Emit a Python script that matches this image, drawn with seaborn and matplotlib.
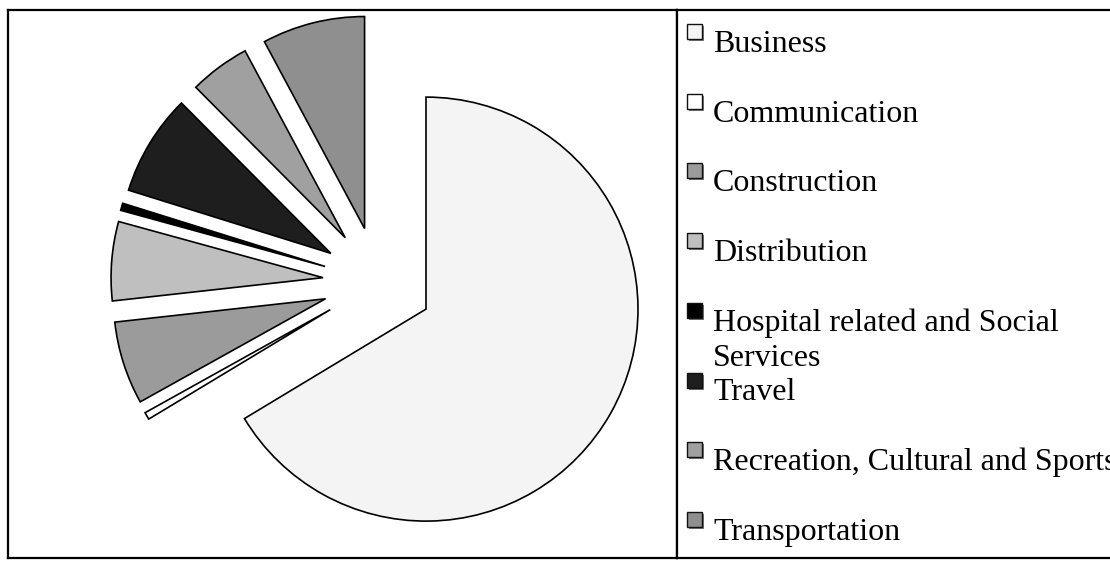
import matplotlib
matplotlib.use("Agg")
import matplotlib.pyplot as plt
from matplotlib.patches import Rectangle
import seaborn as sns

# Share of companies by sector (percent)
categories = [
    "Business",
    "Communication",
    "Construction",
    "Distribution",
    "Hospital related and Social\nServices",
    "Travel",
    "Recreation, Cultural and Sports",
    "Transportation",
]
shares = [66.1, 0.55, 6.3, 6.0, 0.55, 7.7, 4.6, 7.8]
fills = ["#F4F4F4", "#FFFFFF", "#9B9B9B", "#BFBFBF", "#000000",
         "#1E1E1E", "#A0A0A0", "#8F8F8F"]

sns.set_style("white")
plt.rcParams["font.family"] = ["Liberation Serif", "DejaVu Serif"]

W, H = 1110, 563
fig = plt.figure(figsize=(W / 100, H / 100), dpi=100)

def px_box(x0, y0, x1, y1):
    # convert a pixel box (top-left origin) into figure fractions
    return [x0 / W, 1 - y1 / H, (x1 - x0) / W, (y1 - y0) / H]

# ---- pie panel ----
left, top, right, bottom = 8, 10, 677, 558
cx, cy, scale = 378, 282, 212.0
ax = fig.add_axes(px_box(left, top, right, bottom))
ax.pie(shares, colors=fills, startangle=90, counterclock=False,
       explode=[0.26] * len(shares), radius=1, frame=True,
       wedgeprops=dict(edgecolor="black", linewidth=1.2))
ax.set_xlim((left - cx) / scale, (right - cx) / scale)
ax.set_ylim((cy - bottom) / scale, (cy - top) / scale)
ax.set_aspect("auto")
ax.set_xticks([])
ax.set_yticks([])
for s in ax.spines.values():
    s.set_visible(True)
    s.set_color("black")
    s.set_linewidth(1.6)

# ---- legend panel ----
lax = fig.add_axes(px_box(677, top, W, bottom))
lax.set_xlim(677, W)
lax.set_ylim(bottom, top)
lax.set_xticks([])
lax.set_yticks([])
for name, s in lax.spines.items():
    s.set_color("black")
    s.set_linewidth(1.6)
lax.spines["right"].set_visible(False)

first_base, step, line_gap = 52, 69.7, 35.7
for i, (label, col) in enumerate(zip(categories, fills)):
    base = first_base + i * step
    sq_top = base - 28
    lax.add_patch(Rectangle((689, sq_top + 2), 15, 15, facecolor="#7A7A7A",
                            edgecolor="none", clip_on=False))
    lax.add_patch(Rectangle((687, sq_top), 15, 15, facecolor=col,
                            edgecolor="#111111", linewidth=1.0, clip_on=False))
    for j, line in enumerate(label.split("\n")):
        lax.text(713, base + j * line_gap, line, fontsize=23,
                 ha="left", va="baseline", color="black", clip_on=False)

fig.savefig("out.png", dpi=100)
